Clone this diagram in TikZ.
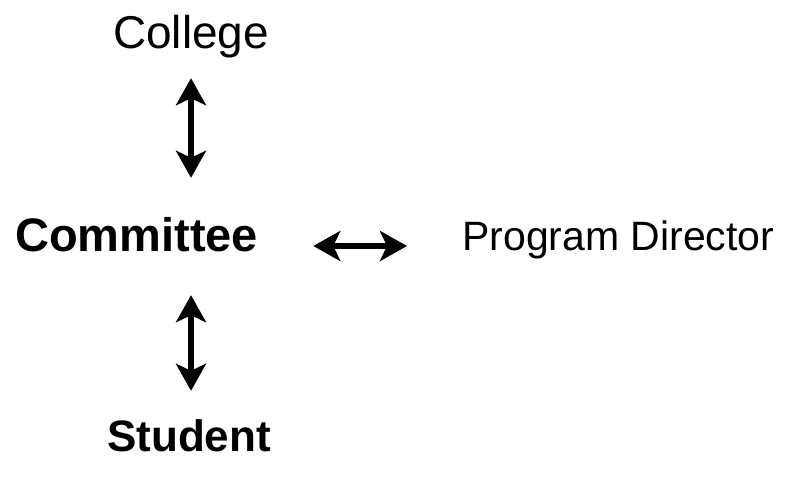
\documentclass[tikz,border=0pt]{standalone}
\usepackage{fontspec}
\setmainfont{Liberation Sans}
\usetikzlibrary{arrows.meta}
\tikzset{
  label/.style={inner sep=0pt, text height=34pt, text depth=10pt},
  twoway/.style={line width=5.5pt, {Stealth[length=27pt,width=30pt,inset=7pt]}-{Stealth[length=27pt,width=30pt,inset=7pt]}},
}
\begin{document}
\begin{tikzpicture}[x=1pt,y=-1pt]
  \useasboundingbox (0,0) rectangle (791,479);
  % people and bodies
  \node[label,anchor=base] (college) at (191,48) {\fontsize{46}{52}\selectfont College};
  \node[label,anchor=base west] (committee) at (15,251) {\fontsize{47}{53}\selectfont\bfseries Committee};
  \node[label,anchor=base west] (director) at (462,250) {\fontsize{41}{48}\selectfont Program Director};
  \node[label,anchor=base] (student) at (189,451) {\fontsize{44}{50}\selectfont\bfseries Student};

  % links
  \draw[twoway,shorten <=20pt,shorten >=39pt] (college.south) -- (college.south |- committee.north);
  \draw[twoway,shorten <=34pt,shorten >=26pt] (college.south |- committee.south) -- (college.south |- student.north);
  \draw[twoway,shorten <=55pt,shorten >=55pt] ([yshift=-7pt]committee.east) -- ([yshift=-8pt]director.west);
\end{tikzpicture}
\end{document}
